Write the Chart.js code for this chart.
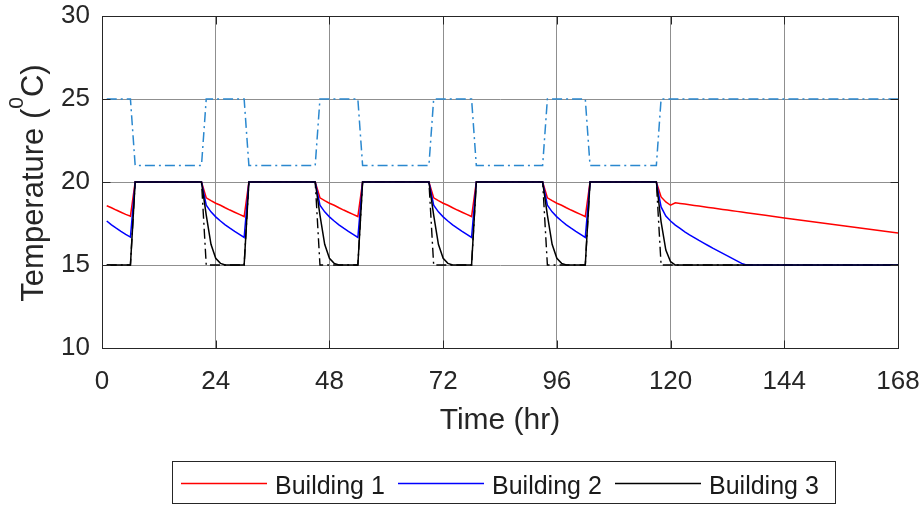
<!DOCTYPE html>
<html>
<head>
<meta charset="utf-8">
<script src="https://cdn.jsdelivr.net/npm/chart.js@4/dist/chart.umd.min.js"></script>
<style>
  html, body { margin: 0; padding: 0; background: #fff; }
  #wrap { width: 923px; height: 505px; position: relative; }
</style>
</head>
<body>
<div id="wrap"><canvas id="c"></canvas></div>
<script>
// Simulation hours at which the building temperatures are listed
const hours = [
  1, 2, 3, 4, 5, 6, 7,
  21, 22, 23, 24, 25, 26, 27, 28, 29, 30, 31,
  45, 46, 47, 48, 49, 50, 51, 52, 53, 54, 55,
  69, 70, 71, 72, 73, 74, 75, 76, 77, 78, 79,
  93, 94, 95, 96, 97, 98, 99, 100, 101, 102, 103,
  117, 118, 119, 120, 121, 122, 123, 124, 125, 126, 127, 128, 129, 130, 131, 132, 133, 134, 135, 136,
  140, 144, 148, 152, 156, 160, 164, 168
];

// Indoor temperature (°C) of each building
const building1 = [
  18.57, 18.45, 18.31, 18.18, 18.05, 17.94, 20,
  20, 19.05, 18.88, 18.72, 18.6, 18.45, 18.31, 18.18, 18.05, 17.92, 20,
  20, 19.05, 18.88, 18.72, 18.6, 18.45, 18.31, 18.18, 18.05, 17.92, 20,
  20, 19.05, 18.88, 18.72, 18.6, 18.45, 18.31, 18.18, 18.05, 17.92, 20,
  20, 19.05, 18.88, 18.72, 18.6, 18.45, 18.31, 18.18, 18.05, 17.92, 20,
  20, 19.1, 18.8, 18.6, 18.75, 18.71, 18.67, 18.63, 18.59, 18.55, 18.51, 18.47, 18.43, 18.39, 18.35, 18.31, 18.27, 18.23, 18.19, 18.15,
  17.99, 17.83, 17.68, 17.53, 17.38, 17.23, 17.08, 16.93
];
const building2 = [
  17.65, 17.42, 17.22, 17.03, 16.85, 16.68, 20,
  20, 18.6, 18.2, 17.9, 17.65, 17.42, 17.22, 17.03, 16.85, 16.66, 20,
  20, 18.6, 18.2, 17.9, 17.65, 17.42, 17.22, 17.03, 16.85, 16.66, 20,
  20, 18.6, 18.2, 17.9, 17.65, 17.42, 17.22, 17.03, 16.85, 16.66, 20,
  20, 18.6, 18.2, 17.9, 17.65, 17.42, 17.22, 17.03, 16.85, 16.66, 20,
  20, 18.5, 17.95, 17.65, 17.4, 17.2, 17.0, 16.82, 16.65, 16.48, 16.32, 16.16, 16.0, 15.85, 15.7, 15.55, 15.4, 15.25, 15.1, 15.0,
  15, 15, 15, 15, 15, 15, 15, 15
];
const building3 = [
  15, 15, 15, 15, 15, 15, 20,
  20, 18.0, 16.25, 15.4, 15.1, 15, 15, 15, 15, 15, 20,
  20, 18.0, 16.25, 15.4, 15.1, 15, 15, 15, 15, 15, 20,
  20, 18.0, 16.25, 15.4, 15.1, 15, 15, 15, 15, 15, 20,
  20, 18.0, 16.25, 15.4, 15.1, 15, 15, 15, 15, 15, 20,
  20, 17.6, 15.9, 15.2, 15.0, 15, 15, 15, 15, 15, 15, 15, 15, 15, 15, 15, 15, 15, 15, 15,
  15, 15, 15, 15, 15, 15, 15, 15
];

// Comfort band (°C): occupied hours 7-21 on weekdays, setback otherwise
const limitHours = [1, 6, 7, 21, 22, 30, 31, 45, 46, 54, 55, 69, 70, 78, 79, 93, 94, 102, 103, 117, 118, 168];
const upperLimit = [25, 25, 21, 21, 25, 25, 21, 21, 25, 25, 21, 21, 25, 25, 21, 21, 25, 25, 21, 21, 25, 25];
const lowerLimit = [15, 15, 20, 20, 15, 15, 20, 20, 15, 15, 20, 20, 15, 15, 20, 20, 15, 15, 20, 20, 15, 15];

// Axis ticks
const timeTicks = [0, 24, 48, 72, 96, 120, 144, 168];
const tempTicks = [10, 15, 20, 25, 30];

const seriesNames = ['Building 1', 'Building 2', 'Building 3'];
const seriesColors = ['#ff0000', '#0000ff', '#000000'];

const FONT = '"Liberation Sans", Arial, Helvetica, sans-serif';
const pts = (xs, ys) => xs.map((x, i) => ({ x: x, y: ys[i] }));

const buildingSets = [building1, building2, building3].map((vals, i) => ({
  label: seriesNames[i],
  data: pts(hours, vals),
  borderColor: seriesColors[i],
  borderWidth: 1.5,
  pointRadius: 0,
  fill: false,
  tension: 0,
  order: 3 - i
}));

const limitSets = [
  {
    label: 'Upper limit',
    data: pts(limitHours, upperLimit),
    borderColor: '#2a88cf',
    borderWidth: 1.5,
    borderDash: [10, 4, 2, 4],
    pointRadius: 0,
    fill: false,
    order: 5
  },
  {
    label: 'Lower limit',
    data: pts(limitHours, lowerLimit),
    borderColor: '#000000',
    borderWidth: 1.4,
    borderDash: [10, 4, 2, 4],
    pointRadius: 0,
    fill: false,
    order: 4
  }
];

// Box around the axes, inward tick marks, axis titles and the legend
const decorations = {
  id: 'decorations',
  afterDraw(chart) {
    const { ctx, chartArea: a, scales } = chart;
    const L = Math.round(a.left) + 0.5, R = Math.round(a.right) + 0.5;
    const T = Math.round(a.top) + 0.5, B = Math.round(a.bottom) + 0.5;
    ctx.save();
    ctx.strokeStyle = '#262626';
    ctx.lineWidth = 1;
    ctx.strokeRect(L, T, R - L, B - T);

    ctx.beginPath();
    timeTicks.forEach(v => {
      const x = Math.round(scales.x.getPixelForValue(v)) + 0.5;
      ctx.moveTo(x, B); ctx.lineTo(x, B - 8);
      ctx.moveTo(x, T); ctx.lineTo(x, T + 8);
    });
    tempTicks.forEach(v => {
      const y = Math.round(scales.y.getPixelForValue(v)) + 0.5;
      ctx.moveTo(L, y); ctx.lineTo(L + 8, y);
      ctx.moveTo(R, y); ctx.lineTo(R - 8, y);
    });
    ctx.stroke();

    ctx.fillStyle = '#262626';
    ctx.textBaseline = 'alphabetic';

    // x-axis title
    ctx.font = '30px ' + FONT;
    ctx.textAlign = 'center';
    ctx.fillText('Time (hr)', (a.left + a.right) / 2, 429);

    // y-axis title with superscript
    const mainFont = '31px ' + FONT, supFont = '21px ' + FONT;
    const parts = [
      ['Temperature (', mainFont, 0],
      ['0', supFont, -20],
      ['C)', mainFont, 0]
    ];
    let total = 0;
    parts.forEach(p => { ctx.font = p[1]; p.push(ctx.measureText(p[0]).width); total += p[3]; });
    ctx.translate(43, (a.top + a.bottom) / 2 + 1);
    ctx.rotate(-Math.PI / 2);
    ctx.textAlign = 'left';
    let px = -total / 2;
    parts.forEach(p => { ctx.font = p[1]; ctx.fillText(p[0], px, p[2]); px += p[3]; });
    ctx.setTransform(1, 0, 0, 1, 0, 0);

    // legend
    ctx.strokeStyle = '#262626';
    ctx.lineWidth = 1;
    ctx.strokeRect(172.5, 461.5, 663, 42);
    ctx.font = '25px ' + FONT;
    ctx.textAlign = 'left';
    seriesNames.forEach((name, i) => {
      const x0 = 181 + i * 217;
      ctx.strokeStyle = seriesColors[i];
      ctx.lineWidth = 1.5;
      ctx.beginPath();
      ctx.moveTo(x0, 483.5);
      ctx.lineTo(x0 + 86, 483.5);
      ctx.stroke();
      ctx.fillStyle = '#1a1a1a';
      ctx.fillText(name, x0 + 94, 494);
    });
    ctx.restore();
  }
};

function noOverflow(s) {
  s.paddingLeft = 0; s.paddingRight = 0; s.paddingTop = 0; s.paddingBottom = 0;
}

new Chart(document.getElementById('c'), {
  type: 'line',
  data: { datasets: buildingSets.concat(limitSets) },
  options: {
    responsive: true,
    maintainAspectRatio: false,
    animation: false,
    events: [],
    layout: { padding: { top: 16, right: 25, bottom: 0, left: 0 } },
    plugins: { legend: { display: false }, tooltip: { enabled: false } },
    scales: {
      x: {
        type: 'linear',
        min: 0, max: 168,
        afterBuildTicks: s => { s.ticks = timeTicks.map(v => ({ value: v })); },
        afterFit: s => { s.height = 157; noOverflow(s); },
        grid: { color: '#8f8f8f', lineWidth: 1, drawTicks: false },
        border: { color: '#262626', width: 1 },
        ticks: { padding: 18, maxRotation: 0, color: '#262626', font: { size: 26, family: FONT } }
      },
      y: {
        type: 'linear',
        min: 10, max: 30,
        afterBuildTicks: s => { s.ticks = tempTicks.map(v => ({ value: v })); },
        afterFit: s => { s.width = 102; noOverflow(s); },
        grid: { color: '#8f8f8f', lineWidth: 1, drawTicks: false },
        border: { color: '#262626', width: 1 },
        ticks: { padding: 12, color: '#262626', font: { size: 26, family: FONT } }
      }
    }
  },
  plugins: [decorations]
});
</script>
</body>
</html>
